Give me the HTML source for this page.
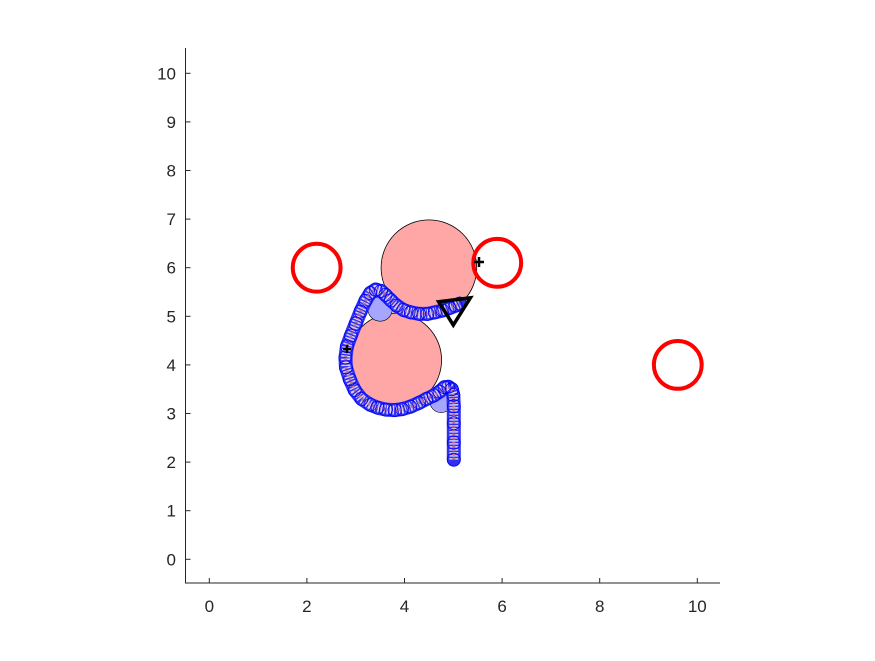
<!DOCTYPE html>
<html><head><meta charset="utf-8"><style>
body{margin:0;background:#fff;}
svg text{font-family:"Liberation Sans",Arial,sans-serif;font-size:17px;fill:#262626;}
</style></head><body>
<svg id="chart" width="875" height="656" viewBox="0 0 875 656" xmlns="http://www.w3.org/2000/svg">
<rect width="875" height="656" fill="#fff"/>
<g id="obstacles"></g>
<g id="path"></g>
<g id="markers"></g>
<g id="axes"></g>
</svg>
<script>
const xTicks=[0,2,4,6,8,10];
const yTicks=[0,1,2,3,4,5,6,7,8,9,10];
const obstacleX=[4.5,3.8];
const obstacleY=[6.0,4.1];
const obstacleR=[0.98,0.96];
const smallX=[3.5,4.75];
const smallY=[5.15,3.25];
const smallR=[0.25,0.23];
const goalX=[2.2,5.9,9.6];
const goalY=[6.0,6.1,4.0];
const goalR=[0.49,0.49,0.49];
const pathX=[5.01,5.01,5.01,5.01,5.0,4.97,4.9,4.82,4.72,4.6,4.45,4.3,4.12,3.95,3.8,3.62,3.45,3.3,3.12,2.98,2.88,2.8,2.79,2.82,2.9,3.0,3.1,3.2,3.3,3.41,3.52,3.61,3.72,3.84,3.98,4.13,4.3,4.47,4.62,4.78,4.92,5.05,5.13];
const pathY=[2.05,2.4,2.8,3.15,3.38,3.5,3.55,3.54,3.45,3.37,3.3,3.22,3.14,3.09,3.07,3.08,3.12,3.18,3.3,3.48,3.7,3.95,4.15,4.38,4.6,4.85,5.1,5.32,5.48,5.55,5.52,5.44,5.33,5.22,5.13,5.08,5.05,5.05,5.08,5.12,5.17,5.22,5.26];
const triX=[4.7,5.35,5.0];
const triY=[5.3,5.38,4.82];
const ns="http://www.w3.org/2000/svg";
const X0=209.3,UX=48.8,Y0=559.3,UY=48.6;
function sx(v){return X0+v*UX;}
function sy(v){return Y0-v*UY;}
function mk(tag,attrs,parent){const e=document.createElementNS(ns,tag);for(const k in attrs)e.setAttribute(k,attrs[k]);parent.appendChild(e);return e;}
const obs=document.getElementById('obstacles');
obstacleX.forEach((x,i)=>{const c=mk('circle',{cx:sx(x),cy:sy(obstacleY[i]),r:obstacleR[i]*UX,fill:'#ffa6a6',stroke:'#000','stroke-width':0.8},obs);

});
smallX.forEach((x,i)=>{const c=mk('circle',{cx:sx(x),cy:sy(smallY[i]),r:smallR[i]*UX,fill:'#a6a6ff',stroke:'#000','stroke-width':0.6},obs);

});
goalX.forEach((x,i)=>{const c=mk('circle',{cx:sx(x),cy:sy(goalY[i]),r:goalR[i]*UX,fill:'none',stroke:'#f00','stroke-width':4},obs);

});
const pg=document.getElementById('path');
const pts=pathX.map((x,i)=>sx(x)+','+sy(pathY[i])).join(' ');
const p1=mk('polyline',{points:pts,fill:'none',stroke:'#3030ee','stroke-width':14,'stroke-linejoin':'round','stroke-linecap':'round'},pg);


const p3=mk('polyline',{points:pts,fill:'none',stroke:'#d8d0f4','stroke-width':9,'stroke-dasharray':'1.5 1.5','stroke-linejoin':'round'},pg);


const p2=mk('polyline',{points:pts,fill:'none',stroke:'#c07090','stroke-width':3,'stroke-dasharray':'2 2','stroke-linejoin':'round'},pg);


pathX.forEach((x,i)=>{const c=mk('circle',{cx:sx(x),cy:sy(pathY[i]),r:6.5,fill:'none',stroke:'#0000ff','stroke-width':0.8},pg);

});
const mg=document.getElementById('markers');
const tri=mk('polygon',{points:triX.map((x,i)=>sx(x)+','+sy(triY[i])).join(' '),fill:'none',stroke:'#000','stroke-width':3.5,'stroke-linejoin':'miter'},mg);


const pl=mk('path',{d:'M474,262h10M479,257v10M343,349h8M347,345v8',stroke:'#000','stroke-width':2.5},mg);


const ax=document.getElementById('axes');
const al=mk('path',{d:'M185.5,48V583H720',fill:'none',stroke:'#262626','stroke-width':1},ax);


xTicks.forEach(v=>{const t=mk('line',{x1:sx(v),x2:sx(v),y1:583,y2:578,stroke:'#262626'},ax);


const l=mk('text',{x:sx(v),y:612,'text-anchor':'middle'},ax);l.textContent=v;

});
yTicks.forEach(v=>{const t=mk('line',{x1:185.5,x2:190.5,y1:sy(v),y2:sy(v),stroke:'#262626'},ax);


const l=mk('text',{x:176,y:sy(v)+6,'text-anchor':'end'},ax);l.textContent=v;

});
</script>
</body></html>
